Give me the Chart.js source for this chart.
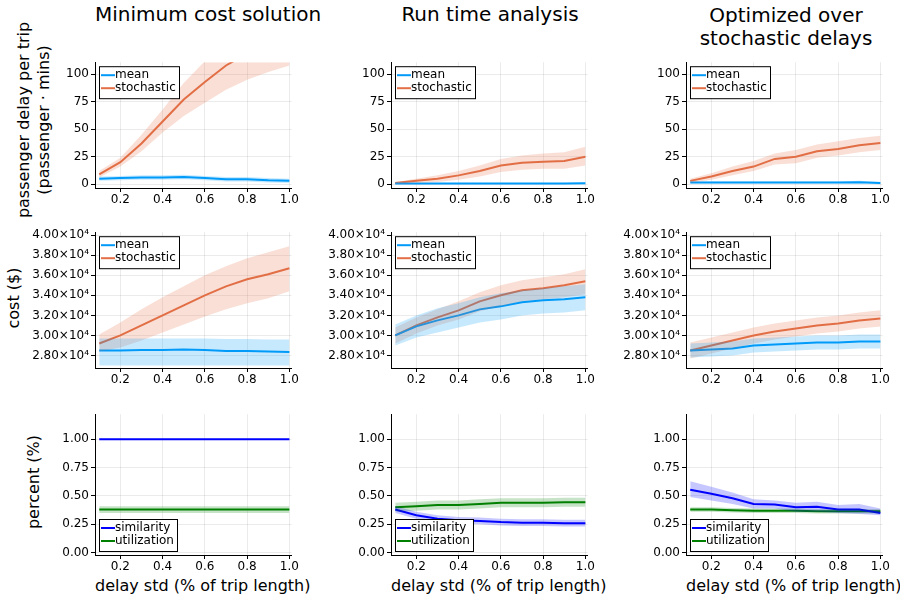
<!DOCTYPE html>
<html><head><meta charset="utf-8">
<script src="https://cdn.jsdelivr.net/npm/chart.js@4"></script>
<style>
body{margin:0;width:900px;height:600px;background:#fff;position:relative;font-family:"DejaVu Sans",sans-serif;overflow:hidden}
canvas{position:absolute}
.t{position:absolute;color:#000;white-space:nowrap;text-align:center}
.r{transform:translate(-50%,-50%) rotate(-90deg);text-align:center;line-height:20px}
</style></head><body>
<div class="t" style="left:95px;width:200px;top:2px;font-size:20px">Minimum cost solution</div>
<div class="t" style="left:390px;width:200px;top:2px;font-size:20px">Run time analysis</div>
<div class="t" style="left:686px;width:200px;top:4px;font-size:20px;line-height:23px">Optimized over<br>stochastic delays</div>
<div class="t r" style="left:34px;top:120px;font-size:16px">passenger delay per trip<br>(passenger · mins)</div>
<div class="t r" style="left:14px;top:298px;font-size:16px">cost ($)</div>
<div class="t r" style="left:34px;top:482px;font-size:16px">percent (%)</div>
<div class="t" style="left:95px;width:200px;top:576px;font-size:16px">delay std (% of trip length)</div>
<div class="t" style="left:391px;width:200px;top:576px;font-size:16px">delay std (% of trip length)</div>
<div class="t" style="left:686px;width:200px;top:576px;font-size:16px">delay std (% of trip length)</div>
<script>
const xs = [0.1,0.2,0.3,0.4,0.5,0.6,0.7,0.8,0.9,1.0];
const xTicks = [0.2,0.4,0.6,0.8,1.0];
const delayTicks = [0,25,50,75,100];
const costTicks = [28000,30000,32000,34000,36000,38000,40000];
const pctTicks = [0,0.25,0.5,0.75,1.0];

// passenger delay
const minMean = [5,5.5,6,6,6.5,5.5,4.5,4.5,3.5,3];
const minMeanLo = [3,3.5,4,4,4.5,3.5,2.5,2.5,1.5,1];
const minMeanHi = [7,7.5,8,8,8.5,7.5,6.5,6.5,5.5,5];
const minSto = [9,20,37,57,77,93,108,119,130,140];
const minStoLo = [6,16,30,47,62,74,86,95,102,108];
const minStoHi = [12,24,45,68,92,112,128,140,150,160];
const runMean = [0.5,0.5,0.5,0.5,0.5,0.5,0.5,0.5,0.5,0.8];
const runMeanLo = [0,0,0,0,0,0,0,0,0,0];
const runMeanHi = [1,1,1,1,1,1,1,1,1,1.6];
const runSto = [1,3,5,8,12,17,19.5,20.5,21,25];
const runStoLo = [0,1,2,4,7,11,13,14,14,17];
const runStoHi = [2,5,8,12,17,23,26,28,29,34];
const optMean = [1.5,1.5,1.5,1.5,1.5,1.5,1.5,1.5,1.8,1];
const optMeanLo = [0.5,0.5,0.5,0.5,0.5,0.5,0.5,0.5,0.5,0];
const optMeanHi = [2.5,2.5,2.5,2.5,2.5,2.5,2.5,2.5,3.2,2];
const optSto = [3,7,12,16,23,25,30,32,35.5,37.5];
const optStoLo = [1,4,8,12,18,19,24,26,29,31];
const optStoHi = [5,10,16,21,28,31,36,39,42,44];

// cost
const cMinMean = [28500,28500,28550,28550,28600,28550,28450,28450,28400,28350];
const cMinMeanLo = [27000,27000,27000,27000,27000,27000,27000,27000,27000,27000];
const cMinMeanHi = [29700,29700,29700,29700,29700,29700,29650,29650,29600,29600];
const cMinSto = [29200,30000,31000,32000,33000,34000,34900,35600,36100,36700];
const cMinStoLo = [28400,28800,29500,30300,31100,31900,32600,33200,33700,34400];
const cMinStoHi = [30100,31300,32600,33800,34900,36000,36900,37700,38300,38900];
const cRunMean = [30000,30900,31500,32000,32600,32900,33300,33500,33600,33800];
const cRunMeanLo = [29000,29800,30300,30800,31300,31600,32000,32200,32300,32500];
const cRunMeanHi = [31100,32000,32700,33200,33800,34200,34500,34700,34900,35100];
const cRunSto = [30000,31000,31800,32500,33400,34000,34500,34700,35000,35400];
const cRunStoLo = [29200,30200,31000,31600,32400,32900,33400,33600,33800,34100];
const cRunStoHi = [30800,31800,32600,33400,34300,35000,35500,35800,36100,36600];
const cOptMean = [28500,28600,28700,29000,29100,29200,29300,29300,29400,29400];
const cOptMeanLo = [27800,27900,28000,28300,28400,28500,28600,28600,28700,28700];
const cOptMeanHi = [29200,29300,29400,29700,29800,29900,30000,30000,30100,30100];
const cOptSto = [28500,29000,29500,30000,30400,30700,31000,31200,31500,31700];
const cOptStoLo = [27700,28200,28700,29200,29600,29900,30200,30400,30700,30900];
const cOptStoHi = [29300,29800,30300,30800,31200,31500,31800,32000,32300,32500];

// percent
const pMinSim = [1,1,1,1,1,1,1,1,1,1];
const pMinUtil = [0.38,0.38,0.38,0.38,0.38,0.38,0.38,0.38,0.38,0.38];
const pMinUtilLo = [0.35,0.35,0.35,0.35,0.35,0.35,0.35,0.35,0.35,0.35];
const pMinUtilHi = [0.41,0.41,0.41,0.41,0.41,0.41,0.41,0.41,0.41,0.41];
const pRunSim = [0.38,0.33,0.30,0.285,0.28,0.27,0.265,0.265,0.26,0.26];
const pRunSimLo = [0.35,0.30,0.27,0.255,0.25,0.24,0.235,0.235,0.23,0.23];
const pRunSimHi = [0.41,0.36,0.33,0.315,0.31,0.30,0.295,0.295,0.29,0.29];
const pRunUtil = [0.40,0.41,0.42,0.42,0.43,0.44,0.44,0.44,0.445,0.445];
const pRunUtilLo = [0.36,0.37,0.38,0.38,0.39,0.40,0.40,0.40,0.405,0.405];
const pRunUtilHi = [0.44,0.45,0.46,0.46,0.47,0.48,0.48,0.48,0.485,0.485];
const pOptSim = [0.555,0.52,0.48,0.43,0.425,0.40,0.405,0.38,0.38,0.35];
const pOptSimLo = [0.49,0.46,0.43,0.39,0.39,0.36,0.36,0.35,0.34,0.33];
const pOptSimHi = [0.63,0.58,0.53,0.47,0.46,0.44,0.45,0.42,0.43,0.39];
const pOptUtil = [0.38,0.38,0.375,0.37,0.37,0.37,0.365,0.365,0.365,0.365];
const pOptUtilLo = [0.36,0.36,0.355,0.35,0.35,0.35,0.345,0.345,0.345,0.345];
const pOptUtilHi = [0.40,0.40,0.395,0.39,0.39,0.39,0.385,0.385,0.385,0.385];

const BLUE = "#009af9", ORANGE = "#e26f46", SIM = "#0000ff", UTIL = "#008000";

function alpha(hex, a) {
    let n = parseInt(hex.slice(1), 16);
    return `rgba(${n >> 16},${(n >> 8) & 255},${n & 255},${a})`;
}
function pts(arr) { return arr.map((v, i) => ({ x: xs[i], y: v })); }

const legendBox = {
    id: "legendBox",
    afterDraw(chart, args, opts) {
        let c = chart.ctx, a = chart.chartArea;
        let items = opts.items, w = opts.width, h = items.length * 13 + 6;
        let x = a.left + 4, y = opts.bottom ? a.bottom - h - 4 : a.top + 4;
        c.save();
        c.fillStyle = "#fff"; c.fillRect(x, y, w, h);
        c.strokeStyle = "#000"; c.lineWidth = 1; c.strokeRect(x + 0.5, y + 0.5, w, h);
        c.font = "12px 'DejaVu Sans'"; c.textBaseline = "middle";
        items.forEach((it, i) => {
            let yy = y + 9 + i * 13;
            c.strokeStyle = it.color; c.lineWidth = 2;
            c.beginPath(); c.moveTo(x + 2, yy); c.lineTo(x + 16, yy); c.stroke();
            c.fillStyle = "#000"; c.fillText(it.label, x + 16, yy);
        });
        c.restore();
    }
};

function panel(left, top, width, height, yMin, yMax, yTicks, fmt, series, legendBottom, legendW) {
    let cv = document.createElement("canvas");
    cv.style.left = left + "px"; cv.style.top = top + "px";
    cv.style.width = width + "px"; cv.style.height = height + "px";
    document.body.appendChild(cv);
    let datasets = [];
    series.forEach(s => {
        if (s.lo) {
            datasets.push({ data: pts(s.lo), borderWidth: 0, pointRadius: 0, fill: false });
            datasets.push({ data: pts(s.hi), borderWidth: 0, pointRadius: 0, fill: "-1", backgroundColor: alpha(s.color, 0.22) });
        }
    });
    series.forEach(s => datasets.push({ data: pts(s.val), borderColor: s.color, borderWidth: 2, pointRadius: 0, fill: false }));
    new Chart(cv, {
        type: "line",
        data: { datasets },
        options: {
            responsive: false, animation: false,
            layout: { padding: { top: 5, right: 6 } },
            plugins: {
                legend: { display: false }, tooltip: { enabled: false },
                legendBox: { items: series.map(s => ({ label: s.label, color: s.color })), bottom: legendBottom, width: legendW }
            },
            scales: {
                x: {
                    type: "linear", min: 0.08, max: 1.01,
                    afterBuildTicks: sc => { sc.ticks = xTicks.map(v => ({ value: v })); },
                    afterFit: sc => { sc.height = 20; },
                    grid: { color: "rgba(0,0,0,0.08)", tickLength: 4, tickColor: "#000" },
                    border: { color: "#000" },
                    ticks: { color: "#000", font: { size: 12, family: "DejaVu Sans" }, padding: 1, maxRotation: 0, callback: v => v.toFixed(1) }
                },
                y: {
                    min: yMin, max: yMax,
                    afterBuildTicks: sc => { sc.ticks = yTicks.map(v => ({ value: v })); },
                    afterFit: sc => { sc.width = 65; },
                    grid: { color: "rgba(0,0,0,0.08)", tickLength: 4, tickColor: "#000" },
                    border: { color: "#000" },
                    ticks: { color: "#000", font: { size: 12, family: "DejaVu Sans" }, padding: 2, callback: fmt }
                }
            }
        },
        plugins: [legendBox]
    });
}

const fInt = v => String(v);
const fCost = v => (v / 10000).toFixed(2) + "×10⁴";
const fPct = v => v.toFixed(2);
const cols = [30, 326, 621];
const rows = [[53, 155], [223, 165], [405, 170]];

const delayData = [
    [[minMean, minMeanLo, minMeanHi], [minSto, minStoLo, minStoHi]],
    [[runMean, runMeanLo, runMeanHi], [runSto, runStoLo, runStoHi]],
    [[optMean, optMeanLo, optMeanHi], [optSto, optStoLo, optStoHi]]
];
const costData = [
    [[cMinMean, cMinMeanLo, cMinMeanHi], [cMinSto, cMinStoLo, cMinStoHi]],
    [[cRunMean, cRunMeanLo, cRunMeanHi], [cRunSto, cRunStoLo, cRunStoHi]],
    [[cOptMean, cOptMeanLo, cOptMeanHi], [cOptSto, cOptStoLo, cOptStoHi]]
];
const pctData = [
    [[pMinSim, null, null], [pMinUtil, pMinUtilLo, pMinUtilHi]],
    [[pRunSim, pRunSimLo, pRunSimHi], [pRunUtil, pRunUtilLo, pRunUtilHi]],
    [[pOptSim, pOptSimLo, pOptSimHi], [pOptUtil, pOptUtilLo, pOptUtilHi]]
];

function mk(d, labels, colors) {
    return d.map((s, i) => ({ label: labels[i], color: colors[i], val: s[0], lo: s[1], hi: s[2] }));
}
for (let c = 0; c < 3; c++) {
    panel(cols[c], rows[0][0], 270, rows[0][1], -3.5, 111, delayTicks, fInt, mk(delayData[c], ["mean", "stochastic"], [BLUE, ORANGE]), false, 80);
    panel(cols[c], rows[1][0], 270, rows[1][1], 26750, 40300, costTicks, fCost, mk(costData[c], ["mean", "stochastic"], [BLUE, ORANGE]), false, 80);
    panel(cols[c], rows[2][0], 270, rows[2][1], -0.02, 1.22, pctTicks, fPct, mk(pctData[c], ["similarity", "utilization"], [SIM, UTIL]), true, 78);
}
</script>
</body></html>
